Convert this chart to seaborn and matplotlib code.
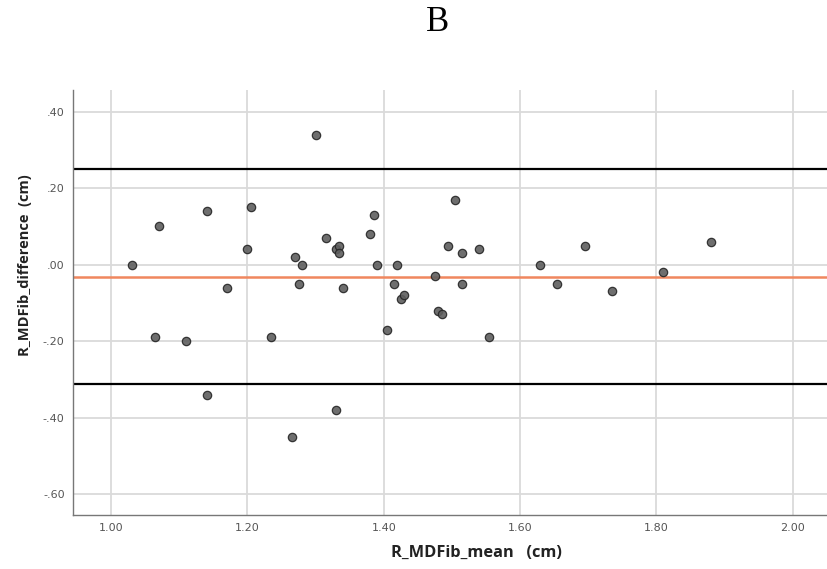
import numpy as np
import pandas as pd
import matplotlib
matplotlib.use("Agg")
import matplotlib.pyplot as plt
import seaborn as sns
from matplotlib.ticker import FixedLocator, FixedFormatter

# Bland-Altman data
mean_cm = [1.03, 1.065, 1.07, 1.11, 1.14, 1.14, 1.17, 1.20, 1.205, 1.235,
           1.265, 1.27, 1.275, 1.28, 1.30, 1.315, 1.33, 1.335, 1.335, 1.34,
           1.33, 1.38, 1.385, 1.39, 1.405, 1.415, 1.42, 1.425, 1.43, 1.475,
           1.48, 1.485, 1.495, 1.505, 1.515, 1.515, 1.54, 1.555, 1.63, 1.655,
           1.695, 1.735, 1.81, 1.88]
diff_cm = [0.00, -0.19, 0.10, -0.20, 0.14, -0.34, -0.06, 0.04, 0.15, -0.19,
           -0.45, 0.02, -0.05, 0.00, 0.34, 0.07, 0.04, 0.05, 0.03, -0.06,
           -0.38, 0.08, 0.13, 0.00, -0.17, -0.05, 0.00, -0.09, -0.08, -0.03,
           -0.12, -0.13, 0.05, 0.17, 0.03, -0.05, 0.04, -0.19, 0.00, -0.05,
           0.05, -0.07, -0.02, 0.06]
bias = -0.031
upper_loa = 0.250
lower_loa = -0.312

x_ticks = [1.00, 1.20, 1.40, 1.60, 1.80, 2.00]
x_labels = ["1.00", "1.20", "1.40", "1.60", "1.80", "2.00"]
y_ticks = [0.40, 0.20, 0.00, -0.20, -0.40, -0.60]
y_labels = [".40", ".20", ".00", "-.20", "-.40", "-.60"]

df = pd.DataFrame({"mean": mean_cm, "diff": diff_cm})

sns.set_style("white")
fig = plt.figure(figsize=(8.28, 5.69), dpi=100)
ax = fig.add_axes([0.0882, 0.0949, 0.9118, 0.7469])

grid_c = "#dadada"
for v in x_ticks:
    ax.axvline(v, color=grid_c, lw=1.3, zorder=0)
for v in y_ticks:
    ax.axhline(v, color=grid_c, lw=1.3, zorder=0)

ax.axhline(upper_loa, color="black", lw=1.6, zorder=1)
ax.axhline(lower_loa, color="black", lw=1.6, zorder=1)
ax.axhline(bias, color="#f0875e", lw=1.8, zorder=1)

sns.scatterplot(data=df, x="mean", y="diff", ax=ax, s=36, color="#5e5e5e",
                edgecolor="#262626", linewidth=0.9, alpha=0.9, zorder=3)

ax.set_xlim(0.944, 2.052)
ax.set_ylim(-0.655, 0.457)
ax.xaxis.set_major_locator(FixedLocator(x_ticks))
ax.xaxis.set_major_formatter(FixedFormatter(x_labels))
ax.yaxis.set_major_locator(FixedLocator(y_ticks))
ax.yaxis.set_major_formatter(FixedFormatter(y_labels))
ax.tick_params(axis="both", length=0, labelsize=8, labelcolor="#555555", pad=6)
ax.set_xlabel("")
ax.set_ylabel("")

for s in ["top", "right"]:
    ax.spines[s].set_visible(False)
for s in ["left", "bottom"]:
    ax.spines[s].set_color("#777777")
    ax.spines[s].set_linewidth(1.0)

# axis titles placed where the reference has them
fig.text(476 / 828, 1 - 553 / 569, "R_MDFib_mean   (cm)", family="Open Sans",
         fontsize=11.8, fontweight="bold", color="#222222",
         ha="center", va="center")
fig.text(25 / 828, 1 - 265 / 569, "R_MDFib_difference  (cm)", family="Open Sans",
         fontsize=10.5, fontweight="bold", color="#222222", rotation=90,
         ha="center", va="center")

fig.text(0.529, 0.961, "B", family="Liberation Serif", fontsize=25,
         ha="center", va="center", color="black")

fig.savefig("out.png", dpi=100)
